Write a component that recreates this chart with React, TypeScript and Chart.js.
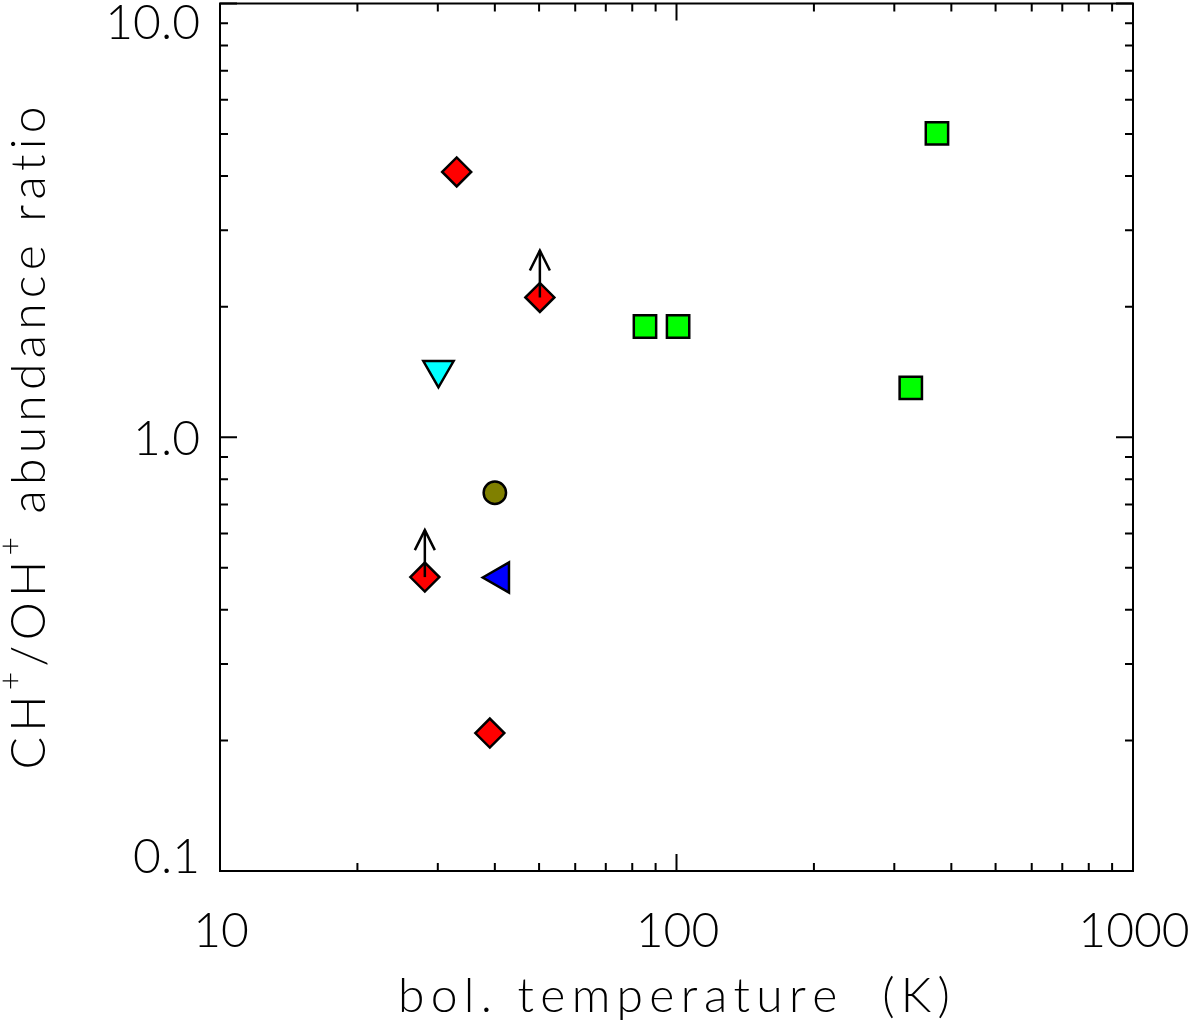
import React, { useEffect, useRef } from "react";
import { Chart, registerables } from "chart.js";

Chart.register(...registerables);

// ---- data ----
const diamondTbol = [33.0, 50.2, 28.1, 39.0];
const diamondRatio = [4.09, 2.1, 0.476, 0.208];
const diamondLowerLimit = [false, true, true, false];

const squareTbol = [85.3, 100.8, 326, 372];
const squareRatio = [1.8, 1.8, 1.3, 5.02];

const downTriTbol = [30.1];
const downTriRatio = [1.43];

const circleTbol = [40.0];
const circleRatio = [0.745];

const leftTriTbol = [41.1];
const leftTriRatio = [0.475];

const xMajorTicks = [10, 100, 1000];
const xTickLabels = ["10", "100", "1000"];
const yMajorTicks = [0.1, 1, 10];
const yTickLabels = ["0.1", "1.0", "10.0"];
const minorMultipliers = [2, 3, 4, 5, 6, 7, 8, 9];

const xTitle = "bol. temperature  (K)";
const yTitleParts: [string, boolean][] = [
  ["CH", false],
  ["+", true],
  ["/OH", false],
  ["+", true],
  [" abundance ratio", false],
];

const FONT_FAMILY = "Lato, 'DejaVu Sans', sans-serif";

function toXY(xs: number[], ys: number[]) {
  return xs.map((x, i) => ({ x, y: ys[i] }));
}

const framePlugin = {
  id: "idlFrame",
  afterDatasetsDraw(chart: any) {
    const ctx: CanvasRenderingContext2D = chart.ctx;
    const { left, right, top, bottom } = chart.chartArea;
    const xs = chart.scales.x;
    const ys = chart.scales.y;
    ctx.save();

    // lower-limit arrows
    const meta = chart.getDatasetMeta(0);
    ctx.strokeStyle = "#000";
    ctx.lineWidth = 2.5;
    ctx.lineCap = "butt";
    meta.data.forEach((pt: any, i: number) => {
      if (!diamondLowerLimit[i]) return;
      const x = pt.x;
      const y = pt.y;
      const tip = y - 47;
      ctx.beginPath();
      ctx.moveTo(x, y);
      ctx.lineTo(x, tip);
      ctx.stroke();
      ctx.beginPath();
      ctx.moveTo(x - 10, tip + 20);
      ctx.lineTo(x, tip);
      ctx.lineTo(x + 10, tip + 20);
      ctx.stroke();
    });

    // frame
    ctx.lineWidth = 2;
    ctx.strokeStyle = "#000";
    ctx.strokeRect(left, top, right - left, bottom - top);

    // ticks
    const majorLen = 17;
    const minorLen = 8;
    ctx.beginPath();
    const xTick = (v: number, len: number) => {
      const px = xs.getPixelForValue(v);
      ctx.moveTo(px, bottom);
      ctx.lineTo(px, bottom - len);
      ctx.moveTo(px, top);
      ctx.lineTo(px, top + len);
    };
    const yTick = (v: number, len: number) => {
      const py = ys.getPixelForValue(v);
      ctx.moveTo(left, py);
      ctx.lineTo(left + len, py);
      ctx.moveTo(right, py);
      ctx.lineTo(right - len, py);
    };
    xMajorTicks.forEach((v, i) => {
      xTick(v, majorLen);
      if (i < xMajorTicks.length - 1) minorMultipliers.forEach((m) => xTick(v * m, minorLen));
    });
    yMajorTicks.forEach((v, i) => {
      yTick(v, majorLen);
      if (i < yMajorTicks.length - 1) minorMultipliers.forEach((m) => yTick(v * m, minorLen));
    });
    ctx.stroke();

    // tick labels
    ctx.fillStyle = "#000";
    ctx.font = `300 48px ${FONT_FAMILY}`;
    ctx.textBaseline = "alphabetic";
    const digitH = 35;
    ctx.textAlign = "right";
    yMajorTicks.forEach((v, i) => {
      const py = ys.getPixelForValue(v);
      const base = Math.min(Math.max(py + digitH / 2, top + digitH), bottom + 2);
      ctx.fillText(yTickLabels[i], left - 20, base);
    });
    ctx.textAlign = "center";
    xMajorTicks.forEach((v, i) => {
      const px = xs.getPixelForValue(v);
      ctx.fillText(xTickLabels[i], px + 1, bottom + 76);
    });

    // x title (fit to reference width)
    const drawSpaced = (text: string, x: number, y: number, spacing: number) => {
      let cx = x;
      for (const ch of text) {
        ctx.fillText(ch, cx, y);
        cx += ctx.measureText(ch).width + spacing;
      }
      return cx;
    };
    const spacedWidth = (text: string, spacing: number) => {
      let w = 0;
      const chars = Array.from(text);
      chars.forEach((ch) => (w += ctx.measureText(ch).width));
      return w + spacing * (chars.length - 1);
    };
    ctx.textAlign = "left";
    ctx.font = `300 48px ${FONT_FAMILY}`;
    const xTitleTarget = 552;
    const xnat = spacedWidth(xTitle, 0);
    const xsp = (xTitleTarget - xnat) / (Array.from(xTitle).length - 1);
    drawSpaced(xTitle, 674 - xTitleTarget / 2, 1012, xsp);

    // y title (rotated), with superscripts
    ctx.save();
    ctx.translate(45, 438);
    ctx.rotate(-Math.PI / 2);
    const mainFont = `300 48px ${FONT_FAMILY}`;
    const supFont = `300 32px ${FONT_FAMILY}`;
    let nat = 0;
    let nchars = 0;
    yTitleParts.forEach(([t, sup]) => {
      ctx.font = sup ? supFont : mainFont;
      nat += spacedWidth(t, 0);
      nchars += Array.from(t).length;
    });
    const yTitleTarget = 663;
    const ysp = (yTitleTarget - nat) / (nchars - 1);
    let cx = -yTitleTarget / 2;
    yTitleParts.forEach(([t, sup]) => {
      ctx.font = sup ? supFont : mainFont;
      cx = drawSpaced(t, cx, sup ? -24 : 0, ysp);
    });
    ctx.restore();

    ctx.restore();
  },
};

export default function App() {
  const ref = useRef<HTMLCanvasElement | null>(null);
  useEffect(() => {
    if (!ref.current) return;
    const common = { borderColor: "#000", borderWidth: 2.5, showLine: false };
    const chart = new Chart(ref.current, {
      type: "scatter",
      data: {
        datasets: [
          {
            ...common,
            data: toXY(diamondTbol, diamondRatio),
            pointStyle: "rectRot",
            pointRadius: 14.5,
            backgroundColor: "#ff0000",
          },
          {
            ...common,
            data: toXY(squareTbol, squareRatio),
            pointStyle: "rect",
            pointRadius: 15.8,
            backgroundColor: "#00ff00",
          },
          {
            ...common,
            data: toXY(downTriTbol, downTriRatio),
            pointStyle: "triangle",
            rotation: 180,
            pointRadius: 17.5,
            backgroundColor: "#00ffff",
          },
          {
            ...common,
            data: toXY(circleTbol, circleRatio),
            pointStyle: "circle",
            pointRadius: 11.2,
            backgroundColor: "#808000",
          },
          {
            ...common,
            data: toXY(leftTriTbol, leftTriRatio),
            pointStyle: "triangle",
            rotation: 270,
            pointRadius: 17.5,
            backgroundColor: "#0000ff",
          },
        ] as any,
      },
      options: {
        responsive: false,
        animation: false,
        devicePixelRatio: 1,
        layout: { autoPadding: false, padding: { left: 220, right: 67, top: 3.5, bottom: 153 } },
        scales: {
          x: { type: "logarithmic", min: 10, max: 1000, display: false },
          y: { type: "logarithmic", min: 0.1, max: 10, display: false },
        },
        plugins: { legend: { display: false }, tooltip: { enabled: false } },
      },
      plugins: [framePlugin],
    });
    return () => chart.destroy();
  }, []);
  return (
    <div style={{ position: "absolute", left: 0, top: 0, width: 1200, height: 1024, background: "#fff" }}>
      <canvas ref={ref} width={1200} height={1024} style={{ width: 1200, height: 1024, display: "block" }} />
    </div>
  );
}
